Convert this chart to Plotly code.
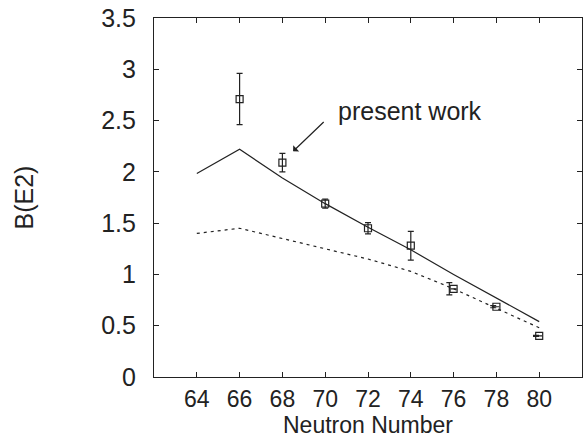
import plotly.graph_objects as go

# Data
neutrons = [66, 68, 70, 72, 74, 76, 78, 80]
bE2 = [2.71, 2.09, 1.69, 1.45, 1.28, 0.86, 0.685, 0.40]
bE2_err = [0.25, 0.09, 0.045, 0.055, 0.14, 0.0, 0.0, 0.0]

# other measurements (offset error bars)
other_n = [75.8, 77.85, 79.85]
other_b = [0.86, 0.685, 0.40]
other_err = [0.06, 0.01, 0.005]

calc_n = [64, 66, 68, 70, 72, 74, 76, 78, 80]
calc_solid = [1.985, 2.22, 1.94, 1.69, 1.46, 1.24, 1.00, 0.77, 0.54]
calc_dashed = [1.40, 1.45, 1.35, 1.25, 1.15, 1.03, 0.86, 0.67, 0.48]

x_ticks = [64, 66, 68, 70, 72, 74, 76, 78, 80]
y_ticks = [0, 0.5, 1, 1.5, 2, 2.5, 3, 3.5]
y_ticklabels = ["0", "0.5", "1", "1.5", "2", "2.5", "3", "3.5"]

ink = "#222222"
font = "Liberation Sans, Arial, sans-serif"
fs = 25

fig = go.Figure()
fig.add_trace(go.Scatter(x=calc_n, y=calc_solid, mode="lines",
                         line=dict(color=ink, width=1.2), showlegend=False))
fig.add_trace(go.Scatter(x=calc_n, y=calc_dashed, mode="lines",
                         line=dict(color=ink, width=1.2, dash="3px,4px"), showlegend=False))
fig.add_trace(go.Scatter(x=other_n, y=other_b, mode="markers",
                         marker=dict(size=1, color=ink),
                         error_y=dict(type="data", array=other_err, color=ink, thickness=1.2, width=3),
                         showlegend=False))
fig.add_trace(go.Scatter(x=neutrons, y=bE2, mode="markers",
                         marker=dict(symbol="square-open", size=7, color=ink, line=dict(width=1.2)),
                         error_y=dict(type="data", array=bE2_err, color=ink, thickness=1.2, width=3),
                         showlegend=False))

fig.add_annotation(x=68.5, y=2.20, ax=70.0, ay=2.50, xref="x", yref="y",
                   axref="x", ayref="y", text="", showarrow=True,
                   arrowhead=1, arrowsize=1.2, arrowwidth=1.2, arrowcolor=ink)
fig.add_annotation(x=70.5, y=2.59, xref="x", yref="y", text="present work",
                   showarrow=False, xanchor="left", yanchor="middle",
                   font=dict(size=fs, color=ink, family=font))
# x-axis title placed just below the tick labels
fig.add_annotation(x=0.5, y=-0.135, xref="paper", yref="paper", text="Neutron Number",
                   showarrow=False, xanchor="center", yanchor="middle",
                   font=dict(size=23, color=ink, family=font))

fig.update_xaxes(range=[62, 82], tickvals=x_ticks, ticks="inside", ticklen=5,
                 mirror="allticks", showline=True, linecolor=ink, linewidth=1.2,
                 showgrid=False, zeroline=False, tickcolor=ink, automargin=False,
                 ticklabelstandoff=1,
                 tickfont=dict(size=23, color=ink, family=font))
fig.update_yaxes(range=[0, 3.5], tickvals=y_ticks, ticktext=y_ticklabels,
                 ticks="inside", ticklen=5, automargin=False,
                 mirror="allticks", showline=True, linecolor=ink, linewidth=1.2,
                 showgrid=False, zeroline=False, tickcolor=ink, ticklabelstandoff=12,
                 tickfont=dict(size=fs, color=ink, family=font),
                 title=dict(text="B(E2)", standoff=60,
                            font=dict(size=fs, color=ink, family=font)))

fig.update_layout(width=583, height=441, plot_bgcolor="white", paper_bgcolor="white",
                  margin=dict(l=154, r=1, t=18, b=64), font=dict(family=font))

fig.write_html("out.html", config={"displayModeBar": False},
               post_script="document.body.style.margin='0';")
